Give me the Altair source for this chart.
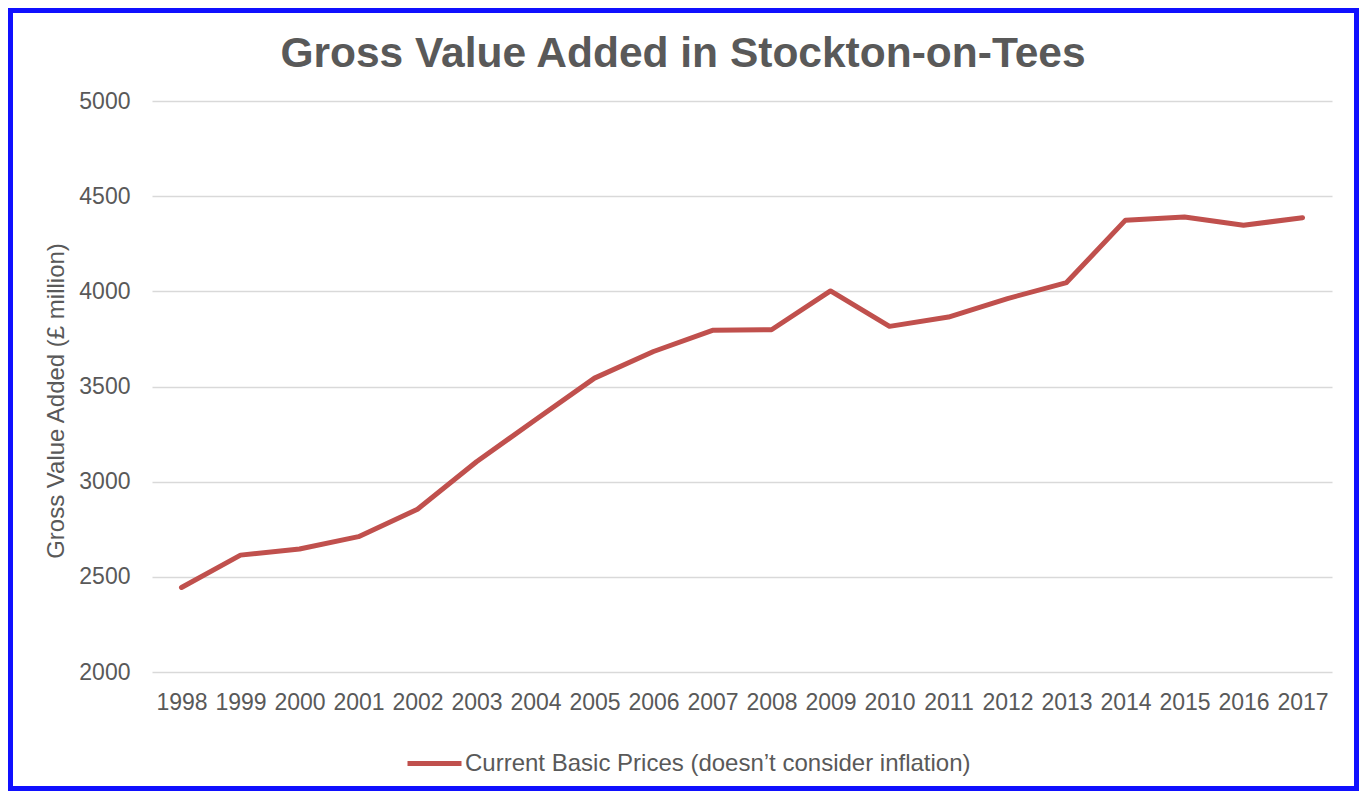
import altair as alt
import pandas as pd

years = [str(y) for y in range(1998, 2018)]
gva = [2444, 2614, 2646, 2711, 2855, 3105, 3325, 3544, 3684, 3795,
       3798, 4002, 3816, 3865, 3962, 4046, 4374, 4391, 4347, 4387]
series_name = "Current Basic Prices (doesn\u2019t consider inflation)"
title_text = "Gross Value Added in Stockton-on-Tees"
y_title = "Gross Value Added (\u00a3 million)"

df = pd.DataFrame({"year": years, "gva": gva, "series": [series_name] * len(years)})

FONT = "Liberation Sans"
GREY = "#595959"
W, H = 1180, 571
PAD = {"left": 144, "top": 93, "right": 27, "bottom": 119}

line = alt.Chart(df).mark_line(color="#C0504D", strokeWidth=5, strokeCap="round", strokeJoin="round").encode(
    x=alt.X("year:O", title=None,
            axis=alt.Axis(labelAngle=0, labelFont=FONT, labelFontSize=23, labelColor=GREY,
                          domain=False, ticks=False, labelPadding=19, grid=False)),
    y=alt.Y("gva:Q", title=y_title,
            scale=alt.Scale(domain=[2000, 5000], nice=False, zero=False),
            axis=alt.Axis(values=[2000, 2500, 3000, 3500, 4000, 4500, 5000], format="d",
                          labelFont=FONT, labelFontSize=23, labelColor=GREY,
                          domain=False, ticks=False, labelPadding=22,
                          grid=True, gridColor="#D9D9D9", gridWidth=1.5,
                          titleFont=FONT, titleFontSize=24, titleFontWeight="normal",
                          titleColor=GREY, titleX=-96, titleY=H / 2 + 14,
                          titleAngle=-90, titleAlign="center", titleBaseline="middle")),
    color=alt.Color("series:N", scale=alt.Scale(range=["#C0504D"]),
                    legend=alt.Legend(title=None, orient="none", legendX=253, legendY=633,
                                      symbolType="stroke", symbolSize=2916,
                                      symbolStrokeWidth=5, labelFont=FONT,
                                      labelFontSize=24, labelColor=GREY, labelLimit=0,
                                      labelOffset=1, padding=0)),
)

one = pd.DataFrame({"t": [title_text]})
title = alt.Chart(one).mark_text(font=FONT, fontSize=42.5, fontWeight="bold", color=GREY,
                                  align="center", baseline="middle").encode(
    x=alt.value(683 - 152), y=alt.value(54 - 101), text="t:N")

frame = alt.Chart(one).mark_rect(fill=None, stroke="#1010FF", strokeWidth=5).encode(
    x=alt.value(-PAD["left"] + 2.5), x2=alt.value(W + PAD["right"] - 2.5),
    y=alt.value(-PAD["top"] + 2.5), y2=alt.value(H + PAD["bottom"] - 2.5))

chart = alt.layer(line, title, frame).properties(
    width=W, height=H, padding=PAD,
    autosize=alt.AutoSizeParams(type="none"),
    background="white",
).configure_view(stroke=None)

chart.save("out.html", embed_options={"renderer": "svg", "actions": False})
